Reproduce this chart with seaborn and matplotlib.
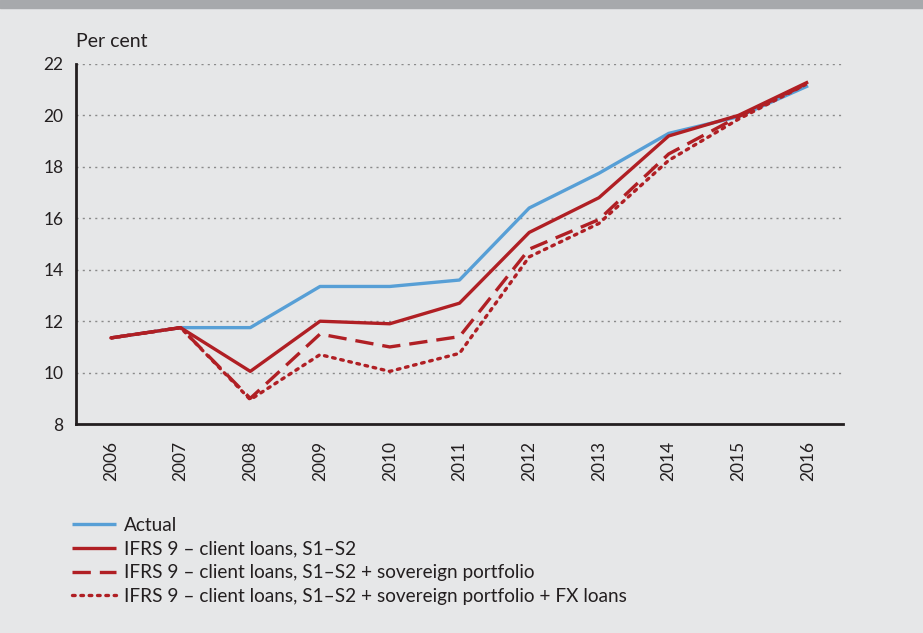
import matplotlib
matplotlib.use("Agg")
import matplotlib.pyplot as plt
import seaborn as sns
import pandas as pd
from matplotlib.ticker import FixedLocator

years = ["2006", "2007", "2008", "2009", "2010", "2011",
         "2012", "2013", "2014", "2015", "2016"]
actual = [11.35, 11.75, 11.75, 13.35, 13.35, 13.6, 16.4, 17.75, 19.3, 19.95, 21.15]
client = [11.35, 11.75, 10.05, 12.0, 11.9, 12.7, 15.45, 16.8, 19.2, 20.0, 21.3]
sovereign = [11.35, 11.75, 9.0, 11.5, 11.0, 11.4, 14.8, 15.95, 18.5, 19.95, 21.25]
fx_loans = [11.35, 11.75, 8.95, 10.7, 10.05, 10.75, 14.5, 15.8, 18.25, 19.85, 21.25]

labels = ["Actual",
          "IFRS 9 \u2013 client loans, S1\u2013S2",
          "IFRS 9 \u2013 client loans, S1\u2013S2 + sovereign portfolio",
          "IFRS 9 \u2013 client loans, S1\u2013S2 + sovereign portfolio + FX loans"]

BG = "#e6e7e8"
BLUE = "#579fd6"
RED = "#b01f24"
INK = "#231f20"

sns.set_style("white")
plt.rcParams["font.family"] = ["Lato", "DejaVu Sans"]

fig = plt.figure(figsize=(9.23, 6.33), dpi=100, facecolor=BG)
ax = fig.add_axes([0.0823, 0.330, 0.831, 0.569], facecolor=BG)

# gray band along the top edge
fig.patches.append(plt.Rectangle((0, 0.987), 1, 0.013, transform=fig.transFigure,
                                 color="#a7a9ac", zorder=0))

x = list(range(len(years)))
df = pd.DataFrame({"x": x, "actual": actual, "client": client,
                   "sovereign": sovereign, "fx": fx_loans})

lw = 2.4
sns.lineplot(data=df, x="x", y="actual", color=BLUE, lw=lw, ax=ax, zorder=3)
sns.lineplot(data=df, x="x", y="fx", color=RED, lw=lw, ax=ax, zorder=4)
sns.lineplot(data=df, x="x", y="sovereign", color=RED, lw=lw, ax=ax, zorder=5)
sns.lineplot(data=df, x="x", y="client", color=RED, lw=lw, ax=ax, zorder=6)

lines = ax.get_lines()
lines[1].set_dashes([0.8, 1.7])
lines[1].set_dash_capstyle("round")
lines[2].set_dashes([5.5, 2.7])
for ln in lines:
    ln.set_solid_capstyle("butt")

ax.set_xlim(-0.5, 10.5)
ax.set_ylim(8, 22)
ax.set_yticks(range(8, 23, 2))
ax.set_xticks(x)
ax.set_xticklabels(years, rotation=90)
ax.xaxis.set_minor_locator(FixedLocator([i - 0.5 for i in range(12)]))
ax.tick_params(axis="x", which="major", length=0, pad=12, labelsize=12.5, colors=INK)
ax.tick_params(axis="x", which="minor", length=4.5, width=2, direction="out", color=INK)
ax.tick_params(axis="y", length=4, width=2, direction="out", labelsize=12.5,
               colors=INK, pad=5)
ax.set_xlabel("")
ax.set_ylabel("")

for yv in range(10, 23, 2):
    ax.axhline(yv, color="#8a8a8a", lw=1, ls=(0, (1.5, 3)), zorder=1)

for side in ["top", "right"]:
    ax.spines[side].set_visible(False)
for side in ["left", "bottom"]:
    ax.spines[side].set_color(INK)
    ax.spines[side].set_linewidth(2)

fig.text(0.0823, 0.921, "Per cent", fontsize=14, color=INK, ha="left", va="bottom")

handles = [lines[0], lines[3], lines[2], lines[1]]
fig.legend(handles, labels, loc="upper left", bbox_to_anchor=(0.078, 0.184),
           frameon=False, fontsize=13.7, handlelength=2.3, handletextpad=0.45,
           labelspacing=0.36, borderaxespad=0, borderpad=0, labelcolor=INK)

fig.savefig("out.png", dpi=100, facecolor=BG)
